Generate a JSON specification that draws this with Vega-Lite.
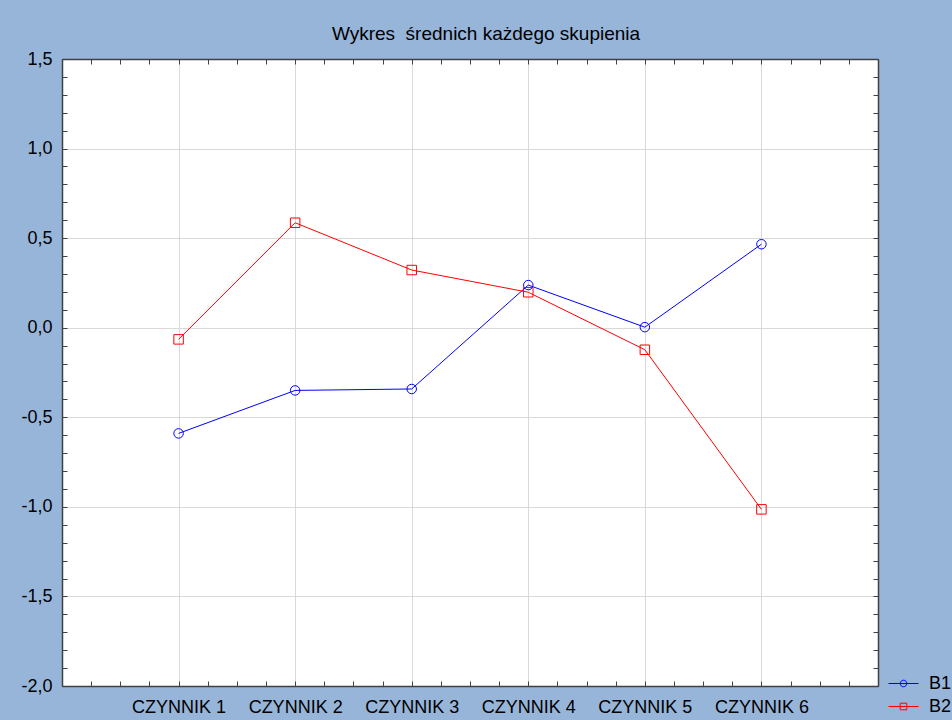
{
  "$schema": "https://vega.github.io/schema/vega-lite/v6.json",
  "width": 816,
  "height": 627,
  "autosize": {"type": "none"},
  "padding": {"left": 62, "top": 59, "right": 74, "bottom": 34},
  "background": "#97b5d9",
  "title": {"text": "Wykres \u00a0średnich każdego skupienia", "fontSize": 19, "font": "Liberation Sans", "fontWeight": "normal", "color": "black", "anchor": "middle", "offset": 6, "dx": 16},
  "config": {
    "view": {"stroke": null, "fill": "white"},
    "font": "Liberation Sans",
    "axis": {"labelFont": "Liberation Sans", "labelFontSize": 18, "labelColor": "black", "domainColor": "#404040", "domainWidth": 1.5, "tickColor": "#404040", "tickWidth": 1, "tickSize": -5, "title": null, "labelOverlap": false, "labelFlush": false, "labelBound": false, "gridColor": "#d9d9d9", "gridWidth": 1}
  },
  "data": {"values": [
    {"series": "B1", "czynnik": "CZYNNIK 1", "n": 1, "value": -0.59},
    {"series": "B1", "czynnik": "CZYNNIK 2", "n": 2, "value": -0.35},
    {"series": "B1", "czynnik": "CZYNNIK 3", "n": 3, "value": -0.342},
    {"series": "B1", "czynnik": "CZYNNIK 4", "n": 4, "value": 0.238},
    {"series": "B1", "czynnik": "CZYNNIK 5", "n": 5, "value": 0.003},
    {"series": "B1", "czynnik": "CZYNNIK 6", "n": 6, "value": 0.466},
    {"series": "B2", "czynnik": "CZYNNIK 1", "n": 1, "value": -0.065},
    {"series": "B2", "czynnik": "CZYNNIK 2", "n": 2, "value": 0.586},
    {"series": "B2", "czynnik": "CZYNNIK 3", "n": 3, "value": 0.322},
    {"series": "B2", "czynnik": "CZYNNIK 4", "n": 4, "value": 0.198},
    {"series": "B2", "czynnik": "CZYNNIK 5", "n": 5, "value": -0.123},
    {"series": "B2", "czynnik": "CZYNNIK 6", "n": 6, "value": -1.014}
  ]},
  "resolve": {"axis": {"x": "independent", "y": "independent"}},
  "layer": [
    {
      "mark": {"type": "line", "strokeWidth": 1},
      "encoding": {
        "x": {"field": "n", "type": "quantitative",
          "scale": {"domain": [0, 7], "nice": false, "zero": false},
          "axis": {"orient": "bottom",
            "values": [0,0.25,0.5,0.75,1,1.25,1.5,1.75,2,2.25,2.5,2.75,3,3.25,3.5,3.75,4,4.25,4.5,4.75,5,5.25,5.5,5.75,6,6.25,6.5,6.75,7],
            "labelExpr": "datum.value % 1 == 0 && datum.value >= 1 && datum.value <= 6 ? 'CZYNNIK ' + datum.value : ''",
            "labelPadding": 17,
            "grid": true,
            "gridOpacity": {"condition": {"test": "datum.value % 1 == 0", "value": 1}, "value": 0}}},
        "y": {"field": "value", "type": "quantitative",
          "scale": {"domain": [-2, 1.5], "nice": false, "zero": false},
          "axis": {"orient": "left",
            "values": [-2,-1.9,-1.8,-1.7,-1.6,-1.5,-1.4,-1.3,-1.2,-1.1,-1,-0.9,-0.8,-0.7,-0.6,-0.5,-0.4,-0.3,-0.2,-0.1,0,0.1,0.2,0.3,0.4,0.5,0.6,0.7,0.8,0.9,1,1.1,1.2,1.3,1.4,1.5],
            "labelExpr": "abs(datum.value*2 - round(datum.value*2)) < 0.01 ? (datum.value < -0.001 ? '-' : '') + replace(format(abs(datum.value), '.1f'), '.', ',') : ''",
            "labelPadding": 15,
            "grid": true,
            "gridOpacity": {"condition": {"test": "abs(datum.value*2 - round(datum.value*2)) < 0.01", "value": 1}, "value": 0}}},
        "color": {"field": "series", "type": "nominal",
          "scale": {"domain": ["B1", "B2"], "range": ["#0000ff", "#ff0000"]},
          "legend": {"title": null, "orient": "none", "legendX": 826, "legendY": 613, "padding": 0,
            "symbolSize": 900, "clipHeight": 23, "rowPadding": 0, "labelOffset": 10,
            "labelFont": "Liberation Sans", "labelFontSize": 18, "labelColor": "black",
            "symbolStrokeWidth": 1,
            "encode": {"symbols": {"update": {
              "shape": {"signal": "datum.value == 'B1' ? 'M-1,0L1,0M-0.22,0A0.22,0.22 0 1,1 0.22,0A0.22,0.22 0 1,1 -0.22,0' : 'M-1,0L1,0M-0.22,-0.22L0.22,-0.22L0.22,0.22L-0.22,0.22Z'"},
              "fill": {"value": "transparent"},
              "strokeWidth": {"value": 1}}}}}}
      }
    },
    {
      "mark": {"type": "point", "filled": false, "strokeWidth": 1, "size": 90, "opacity": 1},
      "encoding": {
        "x": {"field": "n", "type": "quantitative",
          "axis": {"orient": "top",
            "values": [0,0.25,0.5,0.75,1,1.25,1.5,1.75,2,2.25,2.5,2.75,3,3.25,3.5,3.75,4,4.25,4.5,4.75,5,5.25,5.5,5.75,6,6.25,6.5,6.75,7],
            "labels": false, "grid": false}},
        "y": {"field": "value", "type": "quantitative",
          "axis": {"orient": "right",
            "values": [-2,-1.9,-1.8,-1.7,-1.6,-1.5,-1.4,-1.3,-1.2,-1.1,-1,-0.9,-0.8,-0.7,-0.6,-0.5,-0.4,-0.3,-0.2,-0.1,0,0.1,0.2,0.3,0.4,0.5,0.6,0.7,0.8,0.9,1,1.1,1.2,1.3,1.4,1.5],
            "labels": false, "grid": false}},
        "color": {"field": "series", "type": "nominal", "legend": null},
        "shape": {"condition": {"test": "datum.series == 'B1'", "value": "circle"}, "value": "square"}
      }
    }
  ]
}
